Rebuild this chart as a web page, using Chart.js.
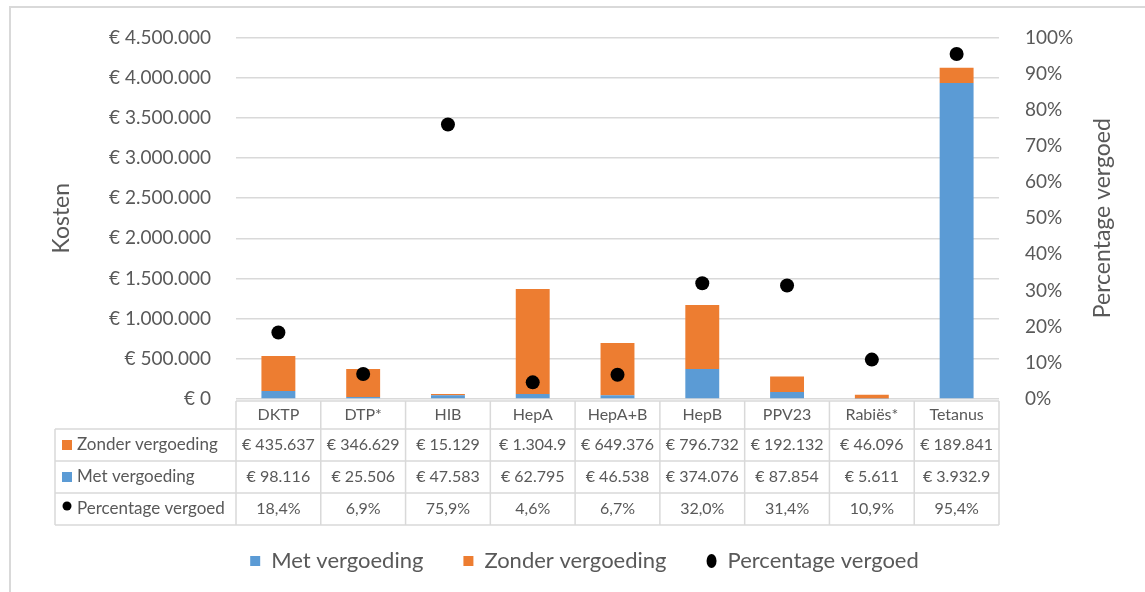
<!DOCTYPE html>
<html><head><meta charset="utf-8">
<script src="https://cdn.jsdelivr.net/npm/chart.js@4"></script>
<style>html,body{margin:0;padding:0;background:#fff;} #wrap{width:1145px;height:592px;position:relative;}</style>
</head><body><div id="wrap"><canvas id="c" width="1145" height="592"></canvas></div>
<script>
const categories = ['DKTP','DTP*','HIB','HepA','HepA+B','HepB','PPV23','Rabiës*','Tetanus'];
const metVergoeding = [98116,25506,47583,62795,46538,374076,87854,5611,3932900];
const zonderVergoeding = [435637,346629,15129,1304900,649376,796732,192132,46096,189841];
const percentageVergoed = [18.4,6.9,75.9,4.6,6.7,32.0,31.4,10.9,95.4];
const seriesNames = ['Met vergoeding','Zonder vergoeding','Percentage vergoed'];
const rightTitle = 'Percentage vergoed';

const BLUE = '#5B9BD5', ORANGE = '#ED7D31', TEXT = '#595959', GRID = '#d9d9d9';
const FONT = 'Lato, "Open Sans", sans-serif';

function euro(v){ return '€ ' + String(Math.round(v)).replace(/\B(?=(\d{3})+(?!\d))/g,'.'); }
function pct(v){ return v.toFixed(1).replace('.',',') + '%'; }

Chart.defaults.font.family = FONT;
Chart.defaults.color = TEXT;

const tablePlugin = {
  id: 'dataTable',
  beforeDraw(chart){
    const ctx = chart.ctx;
    ctx.save();
    ctx.strokeStyle = GRID; ctx.lineWidth = 2;
    ctx.beginPath();
    ctx.moveTo(10, 592); ctx.lineTo(10, 7); ctx.lineTo(1145, 7);
    ctx.stroke();
    ctx.restore();
  },
  afterDraw(chart){
    const {ctx, chartArea} = chart;
    const x = chart.scales.x;
    const n = categories.length;
    const colW = (x.right - x.left) / n;
    const top = chartArea.bottom + 2;
    const rowH = [28, 32, 32, 32];
    const ys = [top];
    rowH.forEach(h => ys.push(ys[ys.length-1] + h));
    const leftX = 55;
    ctx.save();
    // right axis title, reading bottom to top
    ctx.save();
    ctx.translate(1103, (chartArea.top + chartArea.bottom) / 2);
    ctx.rotate(-Math.PI / 2);
    ctx.font = '23px ' + FONT;
    ctx.fillStyle = TEXT; ctx.textAlign = 'center'; ctx.textBaseline = 'middle';
    ctx.fillText(rightTitle, 0, 0);
    ctx.restore();

    ctx.strokeStyle = GRID; ctx.lineWidth = 1.5;
    ctx.beginPath();
    ctx.moveTo(x.left, ys[0]); ctx.lineTo(x.right, ys[0]);
    for (let r = 1; r < ys.length; r++){ ctx.moveTo(leftX, ys[r]); ctx.lineTo(x.right, ys[r]); }
    ctx.moveTo(leftX, ys[1]); ctx.lineTo(leftX, ys[4]);
    for (let i = 0; i <= n; i++){
      const px = x.left + i * colW;
      ctx.moveTo(px, ys[0]); ctx.lineTo(px, ys[4]);
    }
    ctx.stroke();

    ctx.font = '16px ' + FONT;
    ctx.fillStyle = TEXT;
    ctx.textBaseline = 'middle';
    ctx.textAlign = 'center';
    // cells show as many characters as fit, like the spreadsheet's data table
    const limit = ctx.measureText('€ 888.888').width + 0.5;
    const fit = (s) => { let t = s; while (ctx.measureText(t).width > limit && t.length > 1) t = t.slice(0, -1); return t; };
    categories.forEach((c, i) => {
      const cx = x.getPixelForValue(i);
      ctx.fillText(c, cx, (ys[0]+ys[1])/2);
      ctx.fillText(fit(euro(zonderVergoeding[i])), cx, (ys[1]+ys[2])/2);
      ctx.fillText(fit(euro(metVergoeding[i])), cx, (ys[2]+ys[3])/2);
      ctx.fillText(fit(pct(percentageVergoed[i])), cx, (ys[3]+ys[4])/2);
    });
    ctx.textAlign = 'left';
    const rows = [[seriesNames[1], ORANGE, 'rect'], [seriesNames[0], BLUE, 'rect'], [seriesNames[2], '#000', 'circle']];
    rows.forEach((r, k) => {
      const cy = (ys[k+1] + ys[k+2]) / 2;
      ctx.fillStyle = r[1];
      if (r[2] === 'rect') ctx.fillRect(62, cy - 5, 10, 10);
      else { ctx.beginPath(); ctx.arc(67, cy - 3, 4.5, 0, Math.PI*2); ctx.fill(); }
      ctx.fillStyle = TEXT;
      ctx.font = '17px ' + FONT;
      ctx.fillText(r[0], 77, cy);
    });
    ctx.restore();
  }
};

new Chart(document.getElementById('c'), {
  type: 'bar',
  data: {
    labels: categories,
    datasets: [
      { label: seriesNames[0], data: metVergoeding, backgroundColor: BLUE, borderWidth: 0, pointStyle: 'rect', yAxisID: 'y', order: 1 },
      { label: seriesNames[1], data: zonderVergoeding, backgroundColor: ORANGE, borderWidth: 0, pointStyle: 'rect', yAxisID: 'y', order: 1 },
      { type: 'line', label: seriesNames[2], data: percentageVergoed, showLine: false, yAxisID: 'y1',
        backgroundColor: '#000', borderColor: '#000', borderWidth: 0, pointRadius: 7, pointHoverRadius: 7,
        pointBackgroundColor: '#000', pointBorderWidth: 0, pointStyle: 'circle', order: 0 }
    ]
  },
  options: {
    responsive: false,
    animation: false,
    devicePixelRatio: 1,
    layout: { padding: { left: 24, right: 0, top: 37, bottom: 10 } },
    datasets: { bar: { categoryPercentage: 1, barPercentage: 0.4 } },
    plugins: {
      tooltip: { enabled: false },
      legend: {
        position: 'bottom',
        labels: {
          usePointStyle: true, pointStyleWidth: 10, boxHeight: 10,
          font: { size: 22 }, color: TEXT, padding: 40,
          sort: (a, b) => a.datasetIndex - b.datasetIndex
        }
      }
    },
    scales: {
      x: {
        stacked: true,
        ticks: { display: false },
        grid: { display: false },
        border: { display: false },
        afterFit(s){ s.height = 111; }
      },
      y: {
        stacked: true, position: 'left', min: 0, max: 4500000,
        ticks: { stepSize: 500000, callback: v => euro(v), color: TEXT, font: { size: 19 }, padding: 25 },
        grid: { color: GRID, lineWidth: 1.5, drawTicks: false },
        border: { display: false },
        title: { display: true, text: 'Kosten', color: TEXT, font: { size: 23 }, padding: { top: 24, bottom: 0 } },
        afterFit(s){ s.width = 212; }
      },
      y1: {
        position: 'right', min: 0, max: 100,
        ticks: { stepSize: 10, callback: v => v + '%', color: TEXT, font: { size: 19 }, padding: 26 },
        grid: { display: false, drawTicks: false },
        border: { display: false },
        title: { display: false },
        afterFit(s){ s.width = 146; }
      }
    }
  },
  plugins: [tablePlugin]
});
</script>
</body></html>
